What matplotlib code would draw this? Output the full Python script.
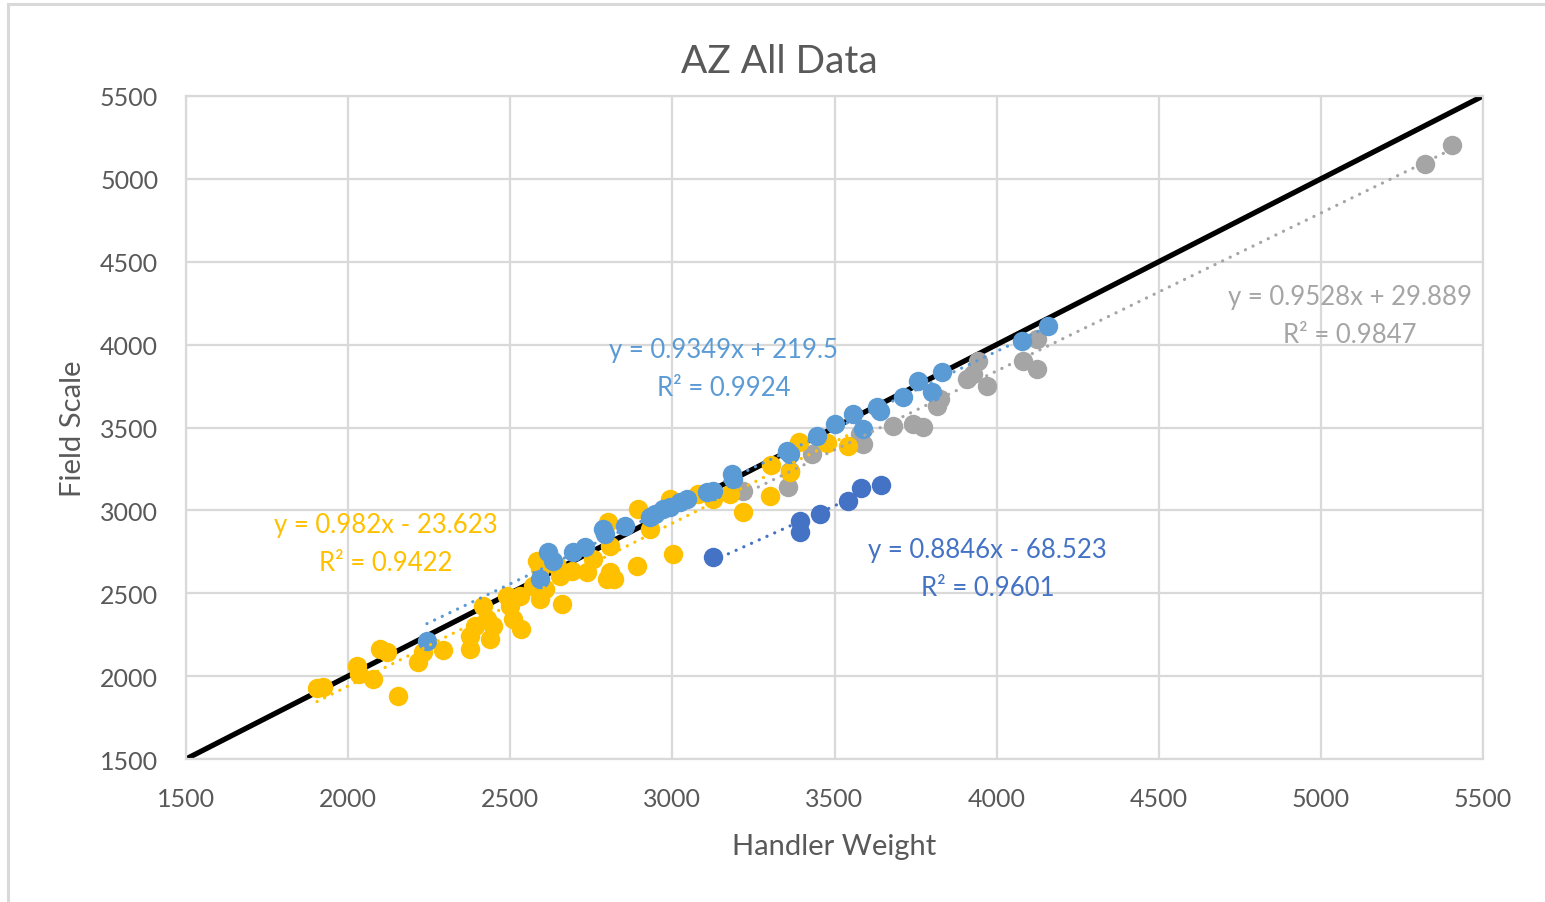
import matplotlib
matplotlib.use("Agg")
import matplotlib.pyplot as plt
import numpy as np
from matplotlib.lines import Line2D

plt.rcParams["font.family"] = ["Lato", "DejaVu Sans"]

# ── data ──────────────────────────────────────────────────────────────────────
yellow_x = [1904, 1923, 2027, 2034, 2077, 2098, 2120, 2154, 2215, 2231, 2293, 2376,
            2376, 2391, 2416, 2428, 2438, 2447, 2490, 2499, 2508, 2530, 2533, 2570,
            2592, 2582, 2644, 2653, 2660, 2690, 2755, 2798, 2820, 2808, 2801, 2891,
            2894, 2931, 3002, 2993, 3079, 3125, 3178, 3218, 3301, 3304, 3363, 3391,
            3477, 3542, 2808, 2737, 2592, 2607]
yellow_y = [1928, 1934, 2061, 2013, 1983, 2164, 2146, 1880, 2085, 2146, 2158, 2242,
            2164, 2302, 2423, 2345, 2224, 2302, 2483, 2423, 2345, 2483, 2284, 2544,
            2465, 2695, 2664, 2604, 2435, 2634, 2707, 2586, 2586, 2785, 2930, 2664,
            3008, 2888, 2737, 3069, 3099, 3069, 3099, 2990, 3087, 3274, 3231, 3412,
            3406, 3388, 2628, 2628, 2646, 2526]

gray_x = [5404, 5321, 4124, 4081, 4124, 3942, 3909, 3970, 3927, 3816, 3825, 3680,
          3742, 3773, 3588, 3579, 3431, 3357, 3363, 3218]
gray_y = [5204, 5090, 4034, 3901, 3853, 3901, 3793, 3750, 3823, 3630, 3672, 3509,
          3521, 3503, 3400, 3461, 3340, 3141, 3238, 3117]

dblue_x = [3125, 3394, 3394, 3455, 3542, 3582, 3643]
dblue_y = [2719, 2870, 2936, 2978, 3057, 3135, 3153]

lblue_x = [2243, 2592, 2616, 2632, 2694, 2731, 2786, 2792, 2854, 2931, 2946, 2971,
           2993, 3024, 3045, 3107, 3125, 3184, 3187, 3353, 3363, 3446, 3502, 3557,
           3588, 3631, 3640, 3711, 3757, 3801, 3832, 4078, 4158]
lblue_y = [2212, 2586, 2749, 2695, 2749, 2779, 2888, 2857, 2906, 2960, 2978, 3008,
           3020, 3051, 3069, 3111, 3117, 3219, 3189, 3358, 3340, 3449, 3521, 3581,
           3491, 3624, 3600, 3684, 3780, 3714, 3835, 4022, 4112]

# trendline equations as printed on the chart
fits = {
    "yellow": (0.982, -23.623, "0.9422"),
    "gray":   (0.9528, 29.889, "0.9847"),
    "dblue":  (0.8846, -68.523, "0.9601"),
    "lblue":  (0.9349, 219.5, "0.9924"),
}

C_YELLOW = "#FFC000"
C_GRAY = "#A5A5A5"
C_DBLUE = "#4472C4"
C_LBLUE = "#5B9BD5"
C_TEXT = "#595959"
C_GRID = "#D9D9D9"

# ── figure ────────────────────────────────────────────────────────────────────
W, H = 1545, 903
fig = plt.figure(figsize=(W / 100, H / 100), dpi=100)
ax = fig.add_axes([186 / W, 1 - 760 / H, (1483 - 186) / W, (760 - 97) / H])

ax.set_xlim(1500, 5500)
ax.set_ylim(1500, 5500)
ax.set_xticks(np.arange(1500, 5501, 500))
ax.set_yticks(np.arange(1500, 5501, 500))
ax.grid(True, color=C_GRID, linewidth=1.6, zorder=0)
ax.set_axisbelow(True)
for s in ax.spines.values():
    s.set_color(C_GRID)
    s.set_linewidth(1.6)
ax.tick_params(length=0, labelsize=18, labelcolor=C_TEXT)
ax.tick_params(axis="y", pad=20)
ax.tick_params(axis="x", pad=20)

# 1:1 line
ax.plot([1500, 5500], [1500, 5500], color="black", linewidth=3.8, zorder=1,
        solid_capstyle="butt")

ms = 14
series = [
    (gray_x, gray_y, C_GRAY, "gray"),
    (yellow_x, yellow_y, C_YELLOW, "yellow"),
    (dblue_x, dblue_y, C_DBLUE, "dblue"),
    (lblue_x, lblue_y, C_LBLUE, "lblue"),
]
for i, (xs, ys, col, key) in enumerate(series):
    ax.plot(xs, ys, "o", color=col, markersize=ms, markeredgewidth=0, zorder=2 + i)

for i, (xs, ys, col, key) in enumerate(series):
    m, b, _ = fits[key]
    xx = np.array([min(xs), max(xs)])
    ax.plot(xx, m * xx + b, color=col, linewidth=2.3, linestyle=(0, (0.05, 2.6)),
            dash_capstyle="round", zorder=10)

# trendline labels
def eq_label(x, y, key, col):
    m, b, r2 = fits[key]
    sign = "+" if b >= 0 else "-"
    bs = f"{abs(b):g}"
    txt = f"y = {m:g}x {sign} {bs}\nR² = {r2}"
    ax.text(x, y, txt, color=col, fontsize=18.5, ha="center", va="center",
            linespacing=1.65, zorder=11)

eq_label(5090, 4173, "gray", C_GRAY)
eq_label(3159, 3853, "lblue", C_LBLUE)
eq_label(2117, 2803, "yellow", C_YELLOW)
eq_label(3973, 2652, "dblue", C_DBLUE)

ax.set_xlabel("Handler Weight", fontsize=21, color=C_TEXT, labelpad=17)
ax.set_ylabel("Field Scale", fontsize=21, color=C_TEXT, labelpad=10)
fig.text(779 / W, 1 - 62 / H, "AZ All Data", fontsize=28, color=C_TEXT,
         ha="center", va="center")

# outer chart border (top and left edges visible)
fig.add_artist(Line2D([8 / W, 1], [1 - 5 / H, 1 - 5 / H], color=C_GRID, linewidth=2.2))
fig.add_artist(Line2D([8 / W, 8 / W], [0, 1 - 5 / H], color=C_GRID, linewidth=2.2))

fig.savefig("out.png", dpi=100)
